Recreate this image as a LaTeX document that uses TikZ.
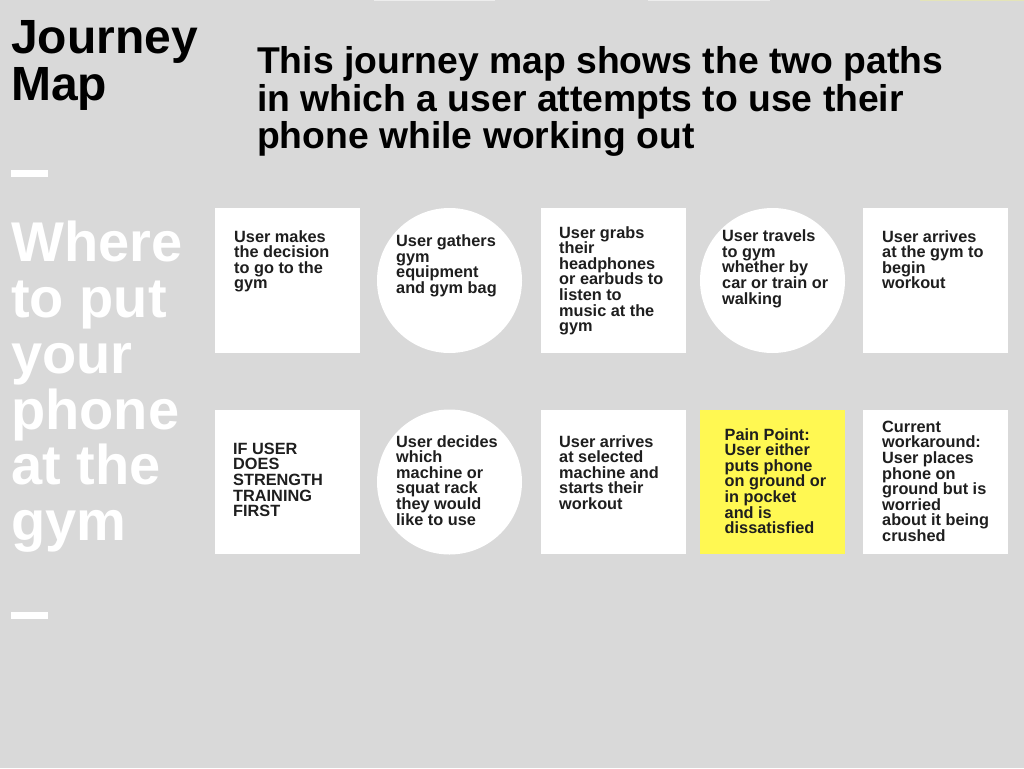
\documentclass[tikz,border=0pt]{standalone}
\usepackage{fontspec}
\setmainfont{Liberation Sans}
\definecolor{bg}{HTML}{D9D9D9}
\definecolor{ink}{HTML}{1E1E1E}
\definecolor{pain}{HTML}{FFF852}
\definecolor{stripw}{HTML}{EDEDED}
\definecolor{stripy}{HTML}{E4E4B8}
\tikzset{
  card/.style={fill=white, draw=none},
  paincard/.style={fill=pain, draw=none},
  bubble/.style={fill=white, draw=none},
  cardtext/.style={anchor=north west, inner sep=0pt, align=left, text=ink,
    font=\fontsize{16.3}{15.65}\selectfont\bfseries, yshift=-1.5pt},
  dashbar/.style={fill=white, draw=none},
}
\begin{document}
\begin{tikzpicture}[x=1pt,y=-1pt]
\useasboundingbox (0,0) rectangle (1024,768);
\fill[bg] (0,0) rectangle (1024,768);
% faint strips at the top edge
\fill[stripw] (374,0) rectangle (495,1.5);
\fill[stripw] (648,0) rectangle (770,1.5);
\fill[stripy] (920,0) rectangle (1024,1.5);

% titles
\node[anchor=north west, inner sep=0pt, align=left, text=black,
  font=\fontsize{48}{47.5}\selectfont\bfseries] (title) at (11,20) {Journey\\Map};
\node[anchor=north west, inner sep=0pt, align=left, text=black,
  font=\fontsize{37.3}{37.3}\selectfont\bfseries] (subtitle) at (257,46.5) {This journey map shows the two paths\\in which a user attempts to use their\\phone while working out};

% left side
\fill[dashbar] (11,170) rectangle (47.5,177);
\node[anchor=north west, inner sep=0pt, align=left, text=white,
  font=\fontsize{56}{55.8}\selectfont\bfseries] (side) at (11,221) {Where\\to put\\your\\phone\\at the\\gym};
\fill[dashbar] (11,612) rectangle (47.5,618.5);

% row 1
\node[card, inner sep=0pt, minimum width=145, minimum height=145, anchor=north west] (b11) at (215,208) {};
\node[bubble, circle, inner sep=0pt, minimum size=145] (b12) at (449.5,280.5) {};
\node[card, inner sep=0pt, minimum width=145, minimum height=145, anchor=north west] (b13) at (541,208) {};
\node[bubble, circle, inner sep=0pt, minimum size=145] (b14) at (772.5,280.5) {};
\node[card, inner sep=0pt, minimum width=145, minimum height=145, anchor=north west] (b15) at (863,208) {};

\node[cardtext] (t11) at (234,228.5) {User makes\\the decision\\to go to the\\gym};
\node[cardtext] (t12) at (396,233) {User gathers\\gym\\equipment\\and gym bag};
\node[cardtext] (t13) at (559,224.5) {User grabs\\their\\headphones\\or earbuds to\\listen to\\music at the\\gym};
\node[cardtext] (t14) at (722,228) {User travels\\to gym\\whether by\\car or train or\\walking};
\node[cardtext] (t15) at (882,228.5) {User arrives\\at the gym to\\begin\\workout};

% row 2
\node[card, inner sep=0pt, minimum width=145, minimum height=144, anchor=north west] (b21) at (215,410) {};
\node[bubble, circle, inner sep=0pt, minimum size=145] (b22) at (449.5,482) {};
\node[card, inner sep=0pt, minimum width=145, minimum height=144, anchor=north west] (b23) at (541,410) {};
\node[paincard, inner sep=0pt, minimum width=145, minimum height=144, anchor=north west] (b24) at (700,410) {};
\node[card, inner sep=0pt, minimum width=145, minimum height=144, anchor=north west] (b25) at (863,410) {};

\node[cardtext] (t21) at (233,441) {IF USER\\DOES\\STRENGTH\\TRAINING\\FIRST};
\node[cardtext] (t22) at (396,433.5) {User decides\\which\\machine or\\squat rack\\they would\\like to use};
\node[cardtext] (t23) at (559,433.5) {User arrives\\at selected\\machine and\\starts their\\workout};
\node[cardtext] (t24) at (724.5,426.5) {Pain Point:\\User either\\puts phone\\on ground or\\in pocket\\and is\\dissatisfied};
\node[cardtext] (t25) at (882,419) {Current\\workaround:\\User places\\phone on\\ground but is\\worried\\about it being\\crushed};
\end{tikzpicture}
\end{document}
